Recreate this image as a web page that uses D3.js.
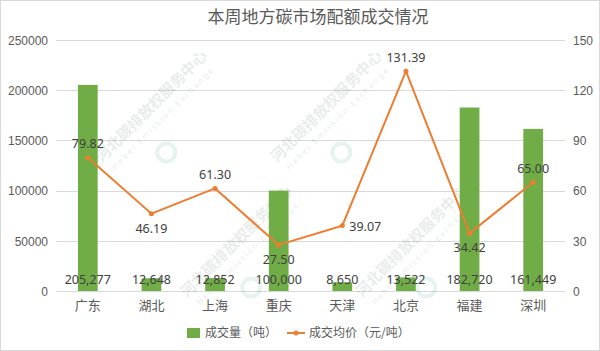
<!DOCTYPE html>
<html>
<head>
<meta charset="utf-8">
<script src="https://cdn.jsdelivr.net/npm/d3@7"></script>
<style>
  body { margin: 0; background: #fff; }
  svg { display: block; font-family: "Noto Sans", "Noto Sans CJK SC", sans-serif; }
</style>
</head>
<body>
<svg id="chart" width="600" height="351"></svg>
<script>
// data
const cities = ['广东', '湖北', '上海', '重庆', '天津', '北京', '福建', '深圳'];
const volume = [205277, 12648, 12852, 100000, 8650, 13522, 182720, 161449];
const price = [79.82, 46.19, 61.30, 27.50, 39.07, 131.39, 34.42, 65.00];
const priceLabelPos = ['top', 'bottom', 'top', 'bottom', 'right', 'top', 'bottom', 'top'];
const leftTicks = [0, 50000, 100000, 150000, 200000, 250000];
const rightTicks = [0, 30, 60, 90, 120, 150];

const W = 600, H = 351;
const L = 56, R = 565, T = 40, B = 291;
const green = '#70AD47', orange = '#ED7D31', grey = '#595959', cjk = '"Noto Sans CJK SC", sans-serif';

const svg = d3.select('#chart');
svg.append('rect').attr('x', 0.5).attr('y', 0.5).attr('width', W - 1).attr('height', H - 1)
  .attr('fill', '#fff').attr('stroke', '#d9d9d9');

const x = d3.scaleBand().domain(cities).range([L, R]).paddingInner(0.69).paddingOuter(0.345);
const y = d3.scaleLinear().domain([0, 250000]).range([B, T]);
const y2 = d3.scaleLinear().domain([0, 150]).range([B, T]);
const cx = c => x(c) + x.bandwidth() / 2;

// gridlines
svg.append('g').selectAll('line').data(leftTicks).join('line')
  .attr('x1', L).attr('x2', R).attr('y1', d => Math.round(y(d)) + 0.5).attr('y2', d => Math.round(y(d)) + 0.5)
  .attr('stroke', '#d9d9d9');

// watermarks
const wm = [[155, 110], [330, 110], [240, 245], [415, 245]];
wm.forEach(([wx, wy]) => {
  const g = svg.append('g').attr('transform', `translate(${wx},${wy}) rotate(-45)`).attr('opacity', 0.11);
  g.append('text').attr('text-anchor', 'middle').attr('font-family', cjk).attr('font-size', 15)
    .attr('font-weight', 'bold').attr('fill', '#3a5a55').text('河北碳排放权服务中心');
  g.append('text').attr('text-anchor', 'middle').attr('y', 14).attr('font-size', 8)
    .attr('letter-spacing', 2).attr('fill', '#3a5a55').text('Hebei Emission Exchange');
  g.append('circle').attr('cx', -22).attr('cy', 38).attr('r', 9).attr('fill', 'none')
    .attr('stroke', '#2aa082').attr('stroke-width', 4);
});

// left axis
svg.append('g').attr('transform', `translate(${L - 8},0)`)
  .call(d3.axisLeft(y).tickValues(leftTicks).tickSize(0).tickPadding(0).tickFormat(d3.format('d')))
  .call(g => g.select('.domain').remove())
  .selectAll('text').attr('font-size', 12).attr('fill', grey).attr('dy', '0.35em');

// right axis
svg.append('g').attr('transform', `translate(${R + 8},0)`)
  .call(d3.axisRight(y2).tickValues(rightTicks).tickSize(0).tickPadding(0))
  .call(g => g.select('.domain').remove())
  .selectAll('text').attr('font-size', 12).attr('fill', grey).attr('dy', '0.35em');

// x axis labels
svg.append('g').attr('transform', `translate(0,${B})`)
  .call(d3.axisBottom(x).tickSize(0).tickPadding(10))
  .call(g => g.select('.domain').remove())
  .selectAll('text').attr('font-size', 13).attr('font-family', cjk).attr('fill', grey);

// bars
svg.append('g').selectAll('rect').data(volume).join('rect')
  .attr('x', (d, i) => x(cities[i])).attr('width', x.bandwidth())
  .attr('y', d => y(d)).attr('height', d => B - y(d)).attr('fill', green);

// bar labels (inside base)
svg.append('g').selectAll('text').data(volume).join('text')
  .attr('x', (d, i) => cx(cities[i])).attr('y', B - 7).attr('text-anchor', 'middle')
  .attr('font-size', 12.5).attr('fill', '#404040').text(d => d3.format(',')(d));

// price line
svg.append('path').datum(price)
  .attr('d', d3.line().x((d, i) => cx(cities[i])).y(d => y2(d)))
  .attr('fill', 'none').attr('stroke', orange).attr('stroke-width', 2);
svg.append('g').selectAll('circle').data(price).join('circle')
  .attr('cx', (d, i) => cx(cities[i])).attr('cy', d => y2(d)).attr('r', 2.5).attr('fill', orange);

// price labels
svg.append('g').selectAll('text').data(price).join('text')
  .attr('x', (d, i) => cx(cities[i]) + (priceLabelPos[i] === 'right' ? 7 : 0))
  .attr('y', (d, i) => y2(d) + (priceLabelPos[i] === 'top' ? -9 : priceLabelPos[i] === 'bottom' ? 19 : 5))
  .attr('text-anchor', (d, i) => priceLabelPos[i] === 'right' ? 'start' : 'middle')
  .attr('font-size', 12.5).attr('fill', '#404040').text(d => d.toFixed(2));

// title
svg.append('text').attr('x', 318).attr('y', 23).attr('text-anchor', 'middle')
  .attr('font-family', cjk).attr('font-size', 17).attr('fill', grey).text('本周地方碳市场配额成交情况');

// legend
const lg = svg.append('g').attr('transform', 'translate(0,333)');
lg.append('rect').attr('x', 187).attr('y', -5).attr('width', 13).attr('height', 10).attr('fill', green);
lg.append('text').attr('x', 205).attr('y', 0).attr('dy', '0.35em').attr('font-family', cjk)
  .attr('font-size', 12).attr('fill', grey).text('成交量（吨）');
lg.append('line').attr('x1', 287).attr('x2', 305).attr('y1', 0).attr('y2', 0).attr('stroke', orange).attr('stroke-width', 2);
lg.append('circle').attr('cx', 296).attr('cy', 0).attr('r', 2.5).attr('fill', orange);
lg.append('text').attr('x', 309).attr('y', 0).attr('dy', '0.35em').attr('font-family', cjk)
  .attr('font-size', 12).attr('fill', grey).text('成交均价（元/吨）');
</script>
</body>
</html>
